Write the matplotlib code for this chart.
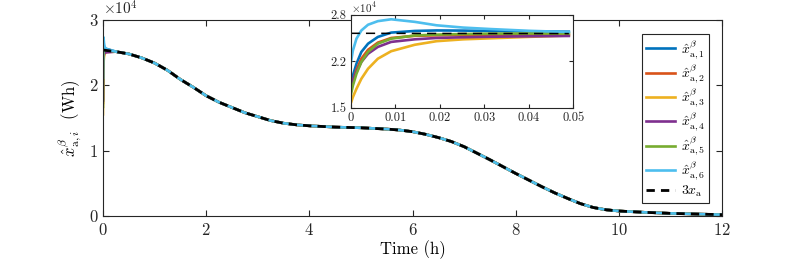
import numpy as np
import matplotlib
matplotlib.use("Agg")
import matplotlib.pyplot as plt

''' Fonts (LaTeX look) '''
plt.rcParams['font.family'] = 'serif'
plt.rcParams['font.serif'] = ['cmr10', 'DejaVu Serif']
plt.rcParams['mathtext.fontset'] = 'cm'
plt.rcParams['axes.unicode_minus'] = False
plt.rcParams['axes.formatter.use_mathtext'] = True

########################## Data (x1e4 Wh) #########################

# common trajectory 3*x_a
t_main = [0, 0.25, 0.5, 0.75, 1, 1.25, 1.5, 1.75, 2, 2.25, 2.5, 2.75, 3,
          3.25, 3.5, 3.75, 4, 4.5, 5, 5.5, 5.75, 6, 6.25, 6.5, 6.75, 7,
          7.25, 7.5, 7.75, 8, 8.25, 8.5, 8.75, 9, 9.25, 9.5, 9.75, 10,
          10.5, 11, 11.5, 12]
xa3 = [2.54, 2.515, 2.48, 2.42, 2.34, 2.23, 2.09, 1.97, 1.84, 1.74, 1.66,
       1.58, 1.52, 1.46, 1.42, 1.395, 1.38, 1.36, 1.35, 1.33, 1.315, 1.29,
       1.25, 1.20, 1.14, 1.06, 0.96, 0.86, 0.755, 0.65, 0.55, 0.45, 0.355,
       0.27, 0.19, 0.13, 0.095, 0.076, 0.056, 0.04, 0.03, 0.02]

# start-up transient of the estimators (first 0.05 h)
t_tr = [0, 0.0005, 0.0013, 0.0024, 0.0039, 0.0061, 0.0091, 0.0144, 0.0193,
        0.0253, 0.0313, 0.04, 0.049]
x1 = [1.79, 1.95, 2.115, 2.28, 2.395, 2.489, 2.55, 2.573, 2.58, 2.578, 2.573, 2.567, 2.562]
x2 = [1.73, 1.87, 2.03, 2.185, 2.31, 2.41, 2.475, 2.505, 2.512, 2.517, 2.52, 2.522, 2.524]
x3 = [1.556, 1.65, 1.765, 1.905, 2.045, 2.185, 2.29, 2.38, 2.43, 2.456, 2.47, 2.49, 2.51]
x4 = [1.765, 1.88, 2.0, 2.14, 2.255, 2.35, 2.42, 2.456, 2.475, 2.485, 2.492, 2.498, 2.503]
x5 = [1.67, 1.81, 1.975, 2.14, 2.28, 2.395, 2.465, 2.51, 2.522, 2.53, 2.535, 2.537, 2.538]
x6 = [2.115, 2.30, 2.465, 2.58, 2.66, 2.71, 2.736, 2.70, 2.652, 2.62, 2.60, 2.575, 2.558]
xa3_tr = [2.54, 2.54, 2.54, 2.54, 2.54, 2.54, 2.539, 2.539, 2.538, 2.538, 2.537, 2.537, 2.536]

series = [x1, x2, x3, x4, x5, x6]
labels = [r'$\hat{x}^{\beta}_{\mathrm{a},%d}$' % (i + 1) for i in range(6)]
colors = ['#0072BD', '#D95319', '#EDB120', '#7E2F8E', '#77AC30', '#4DBEEE']

ax_col = '#262626'

########################## Plot #########################

fig = plt.figure(figsize=(7.97, 2.66), dpi=100)
ax = fig.add_axes([0.1292, 0.188, 0.777, 0.737])

t_full = np.array(t_tr + t_main[1:])
for s, lab, c in zip(series, labels, colors):
    y = np.array(s + xa3[1:]) * 1e4
    ax.plot(t_full, y, color=c, lw=1.9, label=lab)
ax.plot(t_main, np.array(xa3) * 1e4, 'k--', lw=2.0, dashes=(3, 2.2), label=r'$3x_{\mathrm{a}}$')

ax.set_xlim(0, 12)
ax.set_ylim(0, 3e4)
ax.set_xticks(range(0, 13, 2))
ax.set_yticks([0, 1e4, 2e4, 3e4])
ax.set_yticklabels(['0', '1', '2', '3'])
ax.text(0.0, 1.01, r'$\times10^{4}$', transform=ax.transAxes, fontsize=11,
        ha='left', va='bottom', color=ax_col)
ax.set_xlabel('Time (h)', fontsize=12, labelpad=2)
ax.set_ylabel(r'$\hat{x}^{\beta}_{\mathrm{a},i}$  (Wh)', fontsize=12, labelpad=4)
ax.tick_params(direction='in', top=True, right=True, length=4, width=0.8,
               labelsize=12, colors=ax_col, pad=4)
for sp in ax.spines.values():
    sp.set_color(ax_col)
    sp.set_linewidth(0.8)

leg = ax.legend(loc='upper right', bbox_to_anchor=(0.979, 0.929), fontsize=10,
                handlelength=2.1, handletextpad=0.4, labelspacing=0.12,
                borderpad=0.3, fancybox=False, framealpha=1, edgecolor=ax_col,
                borderaxespad=0)
leg.get_frame().set_linewidth(0.8)

''' Inset: first 0.05 h '''
axi = fig.add_axes([0.44, 0.595, 0.2793, 0.3497])
for s, c in zip(series, colors):
    axi.plot(t_tr, np.array(s) * 1e4, color=c, lw=1.9)
axi.plot(t_tr, np.array(xa3_tr) * 1e4, 'k--', lw=1.1, dashes=(6, 4))
axi.set_xlim(0, 0.05)
axi.set_ylim(1.5e4, 2.8e4)
axi.set_xticks([0, 0.01, 0.02, 0.03, 0.04, 0.05])
axi.set_xticklabels(['0', '0.01', '0.02', '0.03', '0.04', '0.05'])
axi.set_yticks([1.5e4, 2.15e4, 2.8e4])
axi.set_yticklabels(['1.5', '2.2', '2.8'])
axi.text(0.0, 1.0, r'$\times10^{4}$', transform=axi.transAxes, fontsize=8,
         ha='left', va='bottom', color=ax_col)
axi.tick_params(direction='in', top=True, right=True, length=3, width=0.8,
                labelsize=9, colors=ax_col, pad=3)
for sp in axi.spines.values():
    sp.set_color(ax_col)
    sp.set_linewidth(0.8)

fig.savefig('out.png', dpi=100)
